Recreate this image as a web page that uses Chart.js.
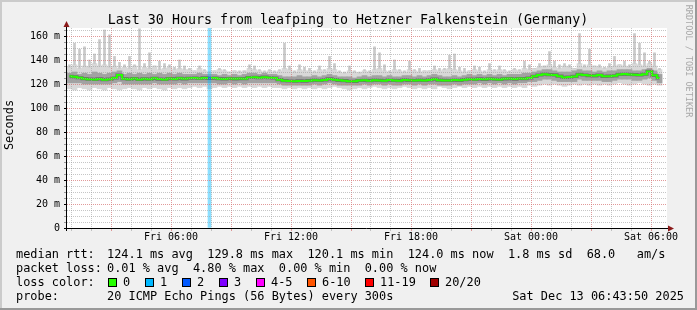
<!DOCTYPE html>
<html>
<head>
<meta charset="utf-8">
<title>Last 30 Hours from leafping to Hetzner Falkenstein (Germany)</title>
<script src="https://cdn.jsdelivr.net/npm/chart.js@4.4.1/dist/chart.umd.min.js"></script>
<style>
  html, body { margin: 0; padding: 0; background: #f0f0f0; }
  #wrap { width: 697px; height: 310px; }
</style>
</head>
<body>
<div id="wrap"><canvas id="smoke" width="697" height="310"></canvas></div>
<script>
"use strict";

// 15 minute slots, the first one starts Fri 00:48 (hours counted from Fri 00:00)
var firstSlotHour = 0.8;
var slotHours = 0.25;

// median rtt per slot (ms)
var median = [
    126.4, 126.0, 125.2, 124.4, 124.0, 123.8, 124.2, 123.6, 124.0, 125.0, 127.5, 124.4, 124.0, 124.6, 123.8, 124.3, 124.0, 124.7, 124.1, 123.8, 124.5, 124.2, 124.7, 124.3,
    124.8, 125.0, 124.6, 125.1, 124.7, 124.9, 124.4, 124.2, 124.6, 124.3, 124.5, 124.4, 125.4, 125.6, 125.3, 125.7, 125.2, 125.0, 123.6, 122.8, 122.5, 122.3, 122.6, 122.4,
    122.8, 123.2, 122.9, 123.4, 124.2, 123.6, 123.1, 122.8, 122.3, 122.2, 122.9, 123.1, 122.8, 123.2, 123.0, 122.7, 123.3, 123.0, 122.8, 123.4, 123.1, 122.9, 123.2, 123.0,
    123.4, 124.0, 123.2, 123.0, 122.9, 123.3, 123.1, 123.6, 124.0, 123.8, 124.2, 123.9, 124.3, 124.0, 123.8, 124.3, 124.5, 124.1, 124.6, 124.4, 125.0, 126.4, 127.5, 128.2,
    127.8, 127.6, 126.5, 125.5, 125.8, 126.3, 128.0, 127.5, 127.0, 126.8, 127.5, 126.4, 126.5, 126.8, 128.0, 128.3, 128.0, 127.8, 127.5, 128.2, 130.5, 127.2, 125.0
];

// outer smoke (light grey band)
var smokeLo = [
    116, 115, 117, 116, 115, 117, 116, 115, 117, 116, 115, 116, 117, 116, 115, 117, 116, 117, 116, 115, 117, 116, 117, 116,
    117, 118, 117, 118, 116, 117, 118, 117, 118, 117, 118, 117, 118, 117, 118, 117, 118, 117, 117, 116, 117, 116, 117, 116,
    117, 116, 117, 116, 117, 118, 117, 116, 115, 116, 117, 116, 117, 118, 117, 116, 117, 116, 117, 118, 117, 116, 117, 116,
    117, 116, 118, 117, 116, 117, 118, 117, 118, 117, 118, 117, 118, 117, 118, 117, 118, 117, 118, 117, 119, 118, 119, 120,
    119, 120, 119, 118, 119, 120, 119, 120, 119, 120, 119, 120, 119, 120, 121, 120, 119, 120, 121, 120, 119, 120, 119
];
var smokeHi = [
    134, 136, 133, 135, 134, 137, 135, 136, 134, 135, 133, 134, 133, 135, 132, 134, 133, 135, 132, 133, 134, 132, 133, 132,
    132, 131, 133, 131, 130, 131, 132, 131, 130, 131, 130, 131, 133, 132, 131, 130, 131, 130, 131, 133, 132, 130, 132, 131,
    131, 130, 132, 131, 133, 132, 130, 129, 131, 130, 129, 131, 130, 132, 133, 131, 130, 132, 131, 130, 132, 131, 130, 131,
    131, 132, 131, 132, 133, 132, 131, 130, 131, 132, 131, 130, 132, 131, 132, 131, 130, 132, 131, 133, 132, 133, 134, 135,
    136, 134, 133, 135, 134, 133, 137, 134, 136, 135, 134, 133, 134, 135, 136, 135, 134, 137, 136, 135, 137, 135, 132
];

// inner smoke (darker grey band)
var coreLo = [
    121, 121, 121, 120, 120, 120, 120, 120, 120, 121, 122, 120, 120, 120, 120, 120, 120, 121, 120, 120, 120, 120, 121, 120,
    121, 121, 121, 121, 121, 121, 120, 120, 121, 120, 121, 120, 121, 121, 121, 121, 121, 121, 120, 119, 119, 119, 119, 119,
    119, 120, 119, 120, 121, 120, 119, 119, 119, 119, 119, 120, 119, 120, 120, 119, 120, 119, 119, 120, 120, 119, 120, 119,
    120, 120, 119, 119, 119, 120, 119, 120, 120, 120, 121, 120, 121, 120, 121, 120, 121, 120, 121, 121, 122, 122, 123, 124,
    124, 123, 122, 122, 122, 122, 124, 123, 123, 123, 123, 122, 122, 123, 124, 124, 124, 123, 123, 124, 125, 123, 121
];
var coreHi = [
    129, 130, 128, 129, 128, 130, 129, 128, 129, 130, 131, 128, 129, 128, 129, 128, 129, 128, 129, 128, 129, 128, 129, 128,
    128, 128, 129, 128, 128, 128, 127, 128, 127, 128, 127, 128, 129, 129, 128, 129, 128, 128, 127, 126, 126, 126, 127, 126,
    126, 127, 126, 127, 128, 127, 126, 126, 126, 125, 126, 127, 126, 127, 127, 126, 127, 126, 126, 127, 127, 126, 127, 126,
    127, 128, 127, 126, 126, 127, 126, 127, 128, 127, 128, 127, 128, 127, 128, 127, 128, 128, 128, 129, 129, 130, 131, 132,
    132, 131, 130, 130, 130, 131, 132, 131, 131, 130, 131, 130, 131, 131, 132, 132, 132, 131, 131, 132, 133, 131, 128
];

// slowest ping per slot (thin spikes)
var peak = [
    136, 154, 149, 151, 140, 145, 157, 165, 161, 143, 138, 136, 143, 136, 166, 137, 146, 135, 139, 137, 136, 134, 140, 135,
    133, 131, 135, 132, 130, 131, 133, 132, 130, 131, 131, 130, 136, 135, 132, 131, 132, 131, 132, 154, 135, 131, 136, 134,
    133, 131, 135, 132, 143, 137, 131, 130, 135, 131, 130, 132, 131, 151, 146, 136, 131, 140, 132, 131, 139, 132, 133, 131,
    131, 135, 133, 133, 144, 145, 134, 133, 131, 135, 134, 131, 137, 132, 135, 132, 131, 133, 132, 139, 136, 133, 137, 134,
    147, 139, 136, 137, 136, 133, 162, 136, 149, 135, 136, 134, 137, 143, 136, 139, 136, 162, 154, 146, 139, 146, 133
];

// lost pings (of 20) per slot
var lossCount = [
    0, 0, 0, 0, 0, 0, 0, 0, 0, 0, 0, 0, 0, 0, 0, 0, 0, 0, 0, 0, 0, 0, 0, 0,
    0, 0, 0, 0, 1, 0, 0, 0, 0, 0, 0, 0, 0, 0, 0, 0, 0, 0, 0, 0, 0, 0, 0, 0,
    0, 0, 0, 0, 0, 0, 0, 0, 0, 0, 0, 0, 0, 0, 0, 0, 0, 0, 0, 0, 0, 0, 0, 0,
    0, 0, 0, 0, 0, 0, 0, 0, 0, 0, 0, 0, 0, 0, 0, 0, 0, 0, 0, 0, 0, 0, 0, 0,
    0, 0, 0, 0, 0, 0, 0, 0, 0, 0, 0, 0, 0, 0, 0, 0, 0, 0, 0, 0, 0, 0, 0
];

var timeTickHours = [6, 12, 18, 24, 30];
var timeTickLabels = ['Fri 06:00', 'Fri 12:00', 'Fri 18:00', 'Sat 00:00', 'Sat 06:00'];
var rttTicks = [0, 20, 40, 60, 80, 100, 120, 140, 160];
var rttTickLabels = ['0', '20 m', '40 m', '60 m', '80 m', '100 m', '120 m', '140 m', '160 m'];

var lossLabels = ['0', '1', '2', '3', '4-5', '6-10', '11-19', '20/20'];
var lossColors = ['#26ff00', '#00b8ff', '#0059ff', '#7e00ff', '#ff00ff', '#ff5500', '#ff0000', '#a00000'];

var xMin = 0.8, xMax = 30.8, yMax = 166.667;
var mono = '"DejaVu Sans Mono", "Liberation Mono", monospace';
var majorGrid = 'rgba(215, 120, 120, 0.75)';
var minorGrid = 'rgba(160, 160, 160, 0.6)';

var slotHour = median.map(function (v, i) { return firstSlotHour + (i + 0.5) * slotHours; });

var band = function (lo, hi) {
    return lo.map(function (v, i) { return { x: slotHour[i], y: [v, hi[i]] }; });
};
var lossBars = [];
lossCount.forEach(function (n, i) {
    if (n > 0) lossBars.push({ x: slotHour[i], y: [0, yMax] });
});
var medianPoints = median.map(function (v, i) { return { x: slotHour[i], y: v }; });

var hourGrid = [];
for (var h = 1; h <= 30; h++) hourGrid.push(h);
var rttGrid = [];
for (var r = 0; r <= 165; r += 5) rttGrid.push(r);

var rrdFrame = {
    id: 'rrdFrame',
    beforeDraw: function (chart) {
        var ctx = chart.ctx, a = chart.chartArea;
        ctx.save();
        ctx.fillStyle = '#f0f0f0';
        ctx.fillRect(0, 0, 697, 310);
        ctx.fillStyle = '#cbcbcb';
        ctx.fillRect(0, 0, 697, 2);
        ctx.fillRect(0, 0, 2, 310);
        ctx.fillStyle = '#999999';
        ctx.fillRect(0, 308, 697, 2);
        ctx.fillRect(695, 0, 2, 310);
        ctx.fillStyle = '#ffffff';
        ctx.fillRect(a.left, a.top, a.right - a.left, a.bottom - a.top);
        ctx.restore();
    },
    afterDraw: function (chart) {
        var ctx = chart.ctx, a = chart.chartArea;
        ctx.save();
        // axes
        ctx.strokeStyle = '#000';
        ctx.lineWidth = 1;
        ctx.beginPath();
        ctx.moveTo(a.left - 0.5, a.bottom + 3);
        ctx.lineTo(a.left - 0.5, a.top - 1);
        ctx.moveTo(a.left - 3, a.bottom + 0.5);
        ctx.lineTo(a.right + 2, a.bottom + 0.5);
        ctx.stroke();
        ctx.fillStyle = '#8b1a1a';
        ctx.beginPath();
        ctx.moveTo(a.left - 0.5, a.top - 7);
        ctx.lineTo(a.left - 3.5, a.top - 1);
        ctx.lineTo(a.left + 2.5, a.top - 1);
        ctx.fill();
        ctx.beginPath();
        ctx.moveTo(a.right + 7, a.bottom + 0.5);
        ctx.lineTo(a.right + 1, a.bottom - 2.5);
        ctx.lineTo(a.right + 1, a.bottom + 3.5);
        ctx.fill();

        ctx.fillStyle = '#000';
        ctx.textBaseline = 'alphabetic';
        ctx.textAlign = 'center';
        ctx.font = '13.3px ' + mono;
        ctx.fillText('Last 30 Hours from leafping to Hetzner Falkenstein (Germany)', 348, 24);

        ctx.font = '11.9px ' + mono;
        ctx.save();
        ctx.translate(10, 125);
        ctx.rotate(-Math.PI / 2);
        ctx.textBaseline = 'middle';
        ctx.fillText('Seconds', 0, 0);
        ctx.restore();

        ctx.save();
        ctx.fillStyle = '#a8a8a8';
        ctx.font = '8.5px ' + mono;
        ctx.translate(688.5, 61);
        ctx.rotate(Math.PI / 2);
        ctx.textBaseline = 'middle';
        ctx.fillText('RRDTOOL / TOBI OETIKER', 0, 0);
        ctx.restore();

        ctx.textAlign = 'left';
        ctx.fillText('median rtt:', 16, 258);
        ctx.fillText('124.1 ms avg  129.8 ms max  120.1 ms min  124.0 ms now  1.8 ms sd  68.0   am/s', 107, 258);
        ctx.fillText('packet loss:', 16, 272);
        ctx.fillText('0.01 % avg  4.80 % max  0.00 % min  0.00 % now', 107, 272);
        ctx.fillText('loss color:', 16, 286);
        var x = 108;
        lossLabels.forEach(function (lbl, i) {
            ctx.fillStyle = lossColors[i];
            ctx.fillRect(x, 278, 9, 9);
            ctx.strokeStyle = '#000';
            ctx.strokeRect(x + 0.5, 278.5, 8, 8);
            ctx.fillStyle = '#000';
            ctx.fillText(lbl, x + 15, 286);
            x += 30 + 7 * lbl.length;
        });
        ctx.fillText('probe:', 16, 300);
        ctx.fillText('20 ICMP Echo Pings (56 Bytes) every 300s', 107, 300);
        ctx.textAlign = 'right';
        ctx.fillText('Sat Dec 13 06:43:50 2025', 684, 300);
        ctx.restore();
    }
};

var ctx = document.getElementById('smoke').getContext('2d');
new Chart(ctx, {
    type: 'bar',
    data: {
        datasets: [
            {
                type: 'line', label: 'median rtt', data: medianPoints, order: 0,
                borderColor: '#26ff00', borderWidth: 2, stepped: 'middle',
                pointRadius: function (c) { return lossCount[c.dataIndex] > 0 ? 2 : 0; },
                pointStyle: 'rect',
                pointBackgroundColor: '#1a7fc0', pointBorderWidth: 0
            },
            {
                type: 'line', label: 'median shadow', data: medianPoints, order: 1,
                borderColor: 'rgba(60, 60, 60, 0.5)', borderWidth: 3.2, stepped: 'middle', pointRadius: 0
            },
            {
                label: 'loss', data: lossBars, order: 2, grouped: false, barThickness: 3,
                backgroundColor: 'rgba(0, 184, 255, 0.45)', borderWidth: 0
            },
            {
                label: 'core smoke', data: band(coreLo, coreHi), order: 3, grouped: false, barThickness: 5,
                backgroundColor: '#a2a2a2', borderWidth: 0
            },
            {
                label: 'spikes', data: band(smokeHi, peak), order: 4, grouped: false, barThickness: 2,
                backgroundColor: '#c9c9c9', borderWidth: 0
            },
            {
                label: 'outer smoke', data: band(smokeLo, smokeHi), order: 5, grouped: false, barThickness: 5,
                backgroundColor: '#d8d8d8', borderWidth: 0
            }
        ]
    },
    options: {
        responsive: false,
        maintainAspectRatio: false,
        animation: false,
        events: [],
        layout: { padding: { top: 28, right: 30, bottom: 0, left: 0 } },
        plugins: { legend: { display: false }, tooltip: { enabled: false } },
        scales: {
            x: {
                type: 'linear', min: xMin, max: xMax, offset: false,
                afterBuildTicks: function (axis) { axis.ticks = hourGrid.map(function (v) { return { value: v }; }); },
                afterFit: function (axis) { axis.height = 82; },
                ticks: {
                    autoSkip: false, maxRotation: 0, padding: 0, color: '#000',
                    font: { family: mono, size: 10 },
                    callback: function (v) {
                        var k = timeTickHours.indexOf(v);
                        return k < 0 ? '' : timeTickLabels[k];
                    }
                },
                grid: {
                    z: 1, offset: false, tickLength: 3,
                    color: function (c) { return c.tick && c.tick.value % 3 === 0 ? majorGrid : minorGrid; },
                    tickColor: function (c) { return c.tick && c.tick.value % 3 === 0 ? majorGrid : minorGrid; }
                },
                border: { display: false, dash: [1, 1] }
            },
            y: {
                min: 0, max: yMax,
                afterBuildTicks: function (axis) { axis.ticks = rttGrid.map(function (v) { return { value: v }; }); },
                afterFit: function (axis) { axis.width = 67; },
                ticks: {
                    autoSkip: false, padding: 4, color: '#000',
                    font: { family: mono, size: 10 },
                    callback: function (v) {
                        var k = rttTicks.indexOf(v);
                        return k < 0 ? '' : rttTickLabels[k];
                    }
                },
                grid: {
                    z: 1, tickLength: 3,
                    color: function (c) { return c.tick && c.tick.value % 20 === 0 ? majorGrid : minorGrid; },
                    tickColor: function (c) { return c.tick && c.tick.value % 20 === 0 ? '#000' : '#999'; }
                },
                border: { display: false, dash: [1, 1] }
            }
        }
    },
    plugins: [rrdFrame]
});
</script>
</body>
</html>
